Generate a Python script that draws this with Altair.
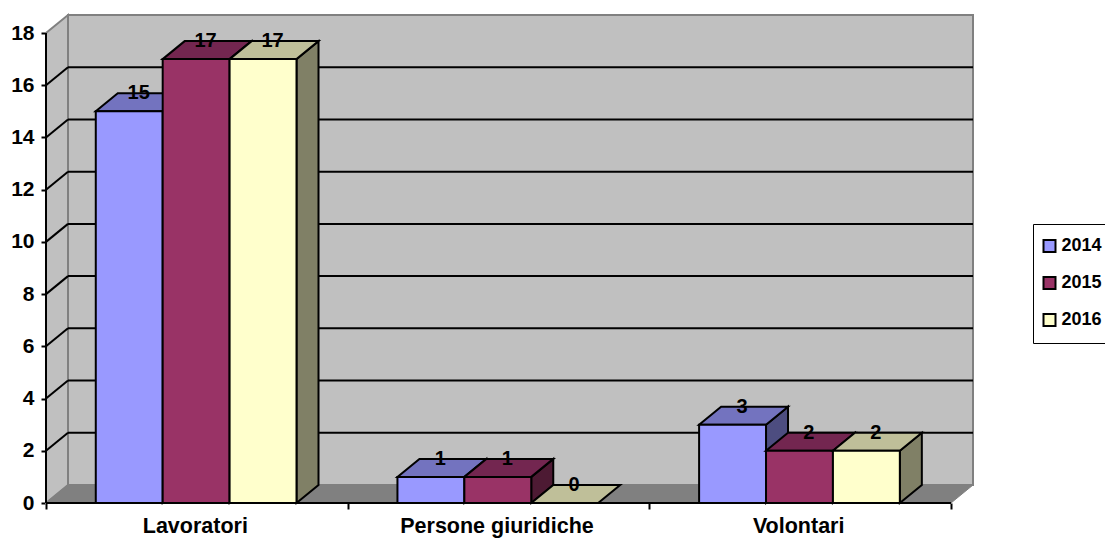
import altair as alt
import pandas as pd

categories = ["Lavoratori", "Persone giuridiche", "Volontari"]
years = ["2014", "2015", "2016"]
values_2014 = [15, 1, 3]
values_2015 = [17, 1, 2]
values_2016 = [17, 0, 2]
series = [values_2014, values_2015, values_2016]
front_colors = ["#9999FF", "#993366", "#FFFFCC"]
top_colors = ["#7373BF", "#732650", "#BFBF99"]
side_colors = ["#4D4D80", "#4D1A33", "#808066"]
y_ticks = list(range(0, 20, 2))
YMAX = 18

# 3-D depth, in data units
DX = 22.0 / 301.67
DY = 18.0 / 26.11
GAP = 0.165
BW = 0.2218

xs = alt.Scale(domain=[0, 3 + DX], nice=False, zero=False)
ys = alt.Scale(domain=[0, YMAX + DY], nice=False, zero=False)
FONT = "Liberation Sans"

x_axis = alt.Axis(
    values=[0, 1, 2, 3], labels=False, title=None, grid=False, domain=False,
    tickSize=6, tickColor="black", tickWidth=2,
)
y_axis = alt.Axis(
    values=y_ticks, title=None, grid=False, domain=False, tickSize=5, tickColor="black",
    tickWidth=2, labelFont=FONT, labelFontSize=21, labelFontWeight="bold",
    labelColor="black", labelPadding=7,
)
X = lambda f: alt.X(f, scale=xs, axis=x_axis)
Y = lambda f: alt.Y(f, scale=ys, axis=y_axis)


def poly_df(polys):
    rows = []
    for pid, pts in enumerate(polys):
        for i, (x, y) in enumerate(pts):
            rows.append({"x": x, "y": y, "i": i, "poly": pid})
    return pd.DataFrame(rows)


def poly_layer(polys, fill, stroke, sw):
    return (
        alt.Chart(poly_df(polys))
        .mark_line(interpolate="linear-closed", fill=fill, stroke=stroke, strokeWidth=sw, clip=False)
        .encode(x=X("x:Q"), y=Y("y:Q"), order="i:Q", detail="poly:N")
    )


back = poly_layer([[(DX, DY), (3 + DX, DY), (3 + DX, YMAX + DY), (DX, YMAX + DY)]], "#C0C0C0", "#808080", 2)
left = poly_layer([[(0, 0), (DX, DY), (DX, YMAX + DY), (0, YMAX)]], "#C0C0C0", "#808080", 2)
floor = poly_layer([[(0, 0), (3, 0), (3 + DX, DY), (DX, DY)]], "#808080", "#808080", 1)

grid_df = pd.DataFrame({"v": [t + DY for t in y_ticks if 0 < t < YMAX], "x0": DX, "x1": 3 + DX})
grid = (
    alt.Chart(grid_df)
    .mark_rule(color="black", strokeWidth=2)
    .encode(x=X("x0:Q"), x2="x1:Q", y=Y("v:Q"))
)
diag_polys = [[(0, t), (DX, t + DY)] for t in y_ticks if 0 < t < YMAX]
diag = (
    alt.Chart(poly_df(diag_polys))
    .mark_line(color="black", strokeWidth=2)
    .encode(x=X("x:Q"), y=Y("y:Q"), order="i:Q", detail="poly:N")
)

layers = [back, left, floor, grid, diag]
labels = []
for s, year in enumerate(years):
    tops, sides, fronts = [], [], []
    for c, v in enumerate(series[s]):
        x0 = c + GAP + s * BW
        x1 = x0 + BW
        tops.append([(x0, v), (x1, v), (x1 + DX, v + DY), (x0 + DX, v + DY)])
        if v > 0:
            sides.append([(x1, 0), (x1 + DX, DY), (x1 + DX, v + DY), (x1, v)])
        fronts.append({"x0": x0, "x1": x1, "v": v, "year": year, "zero": 0})
        labels.append({"x": (x0 + x1) / 2 + DX * 0.43, "y": v + DY, "t": str(v)})
    if sides:
        layers.append(poly_layer(sides, side_colors[s], "black", 2))
    layers.append(poly_layer(tops, top_colors[s], "black", 2))
    layers.append(
        alt.Chart(pd.DataFrame(fronts))
        .mark_rect(stroke="black", strokeWidth=2)
        .encode(
            x=X("x0:Q"),
            x2="x1:Q",
            y=Y("v:Q"),
            y2="zero:Q",
            fill=alt.Fill(
                "year:N",
                scale=alt.Scale(domain=years, range=front_colors),
                legend=alt.Legend(
                    title=None,
                    orient="none",
                    legendX=987,
                    legendY=209,
                    padding=13,
                    strokeColor="black",
                    symbolType="square",
                    symbolSize=144,
                    symbolOffset=-5.5,
                    symbolStrokeColor="black",
                    symbolStrokeWidth=2,
                    labelOffset=3,
                    labelFont=FONT,
                    labelFontSize=18,
                    labelFontWeight="bold",
                    labelColor="black",
                    rowPadding=17,
                    labelLimit=200,
                ),
            ),
        )
    )

# axis baselines
axis_x = (
    alt.Chart(pd.DataFrame({"a": [0], "b": [3], "y": [0]}))
    .mark_rule(color="black", strokeWidth=2)
    .encode(x=X("a:Q"), x2="b:Q", y=Y("y:Q"))
)
axis_y = (
    alt.Chart(pd.DataFrame({"x": [0], "a": [0], "b": [YMAX]}))
    .mark_rule(color="black", strokeWidth=2)
    .encode(x=X("x:Q"), y=Y("a:Q"), y2="b:Q")
)
layers += [axis_x, axis_y]

value_text = (
    alt.Chart(pd.DataFrame(labels))
    .mark_text(font=FONT, fontSize=20, fontWeight="bold", color="black", baseline="middle", align="center")
    .encode(x=X("x:Q"), y=Y("y:Q"), text="t:N")
)
cat_df = pd.DataFrame({"c": categories, "x": [i + 0.495 for i in range(len(categories))], "y": 0})
cat_text = (
    alt.Chart(cat_df)
    .mark_text(font=FONT, fontSize=21.5, fontWeight="bold", color="black", baseline="middle", align="center", dy=24)
    .encode(x=X("x:Q"), y=Y("y:Q"), text="c:N")
)
layers += [value_text, cat_text]

chart = (
    alt.layer(*layers)
    .resolve_scale(x="shared", y="shared")
    .properties(
        width=927,
        height=488,
        autosize=alt.AutoSizeParams(type="none"),
        padding={"left": 38, "top": 7, "right": 132, "bottom": 37},
    )
    .configure_view(stroke=None)
)
chart.save("out.html", embed_options={"renderer": "svg", "actions": False})
